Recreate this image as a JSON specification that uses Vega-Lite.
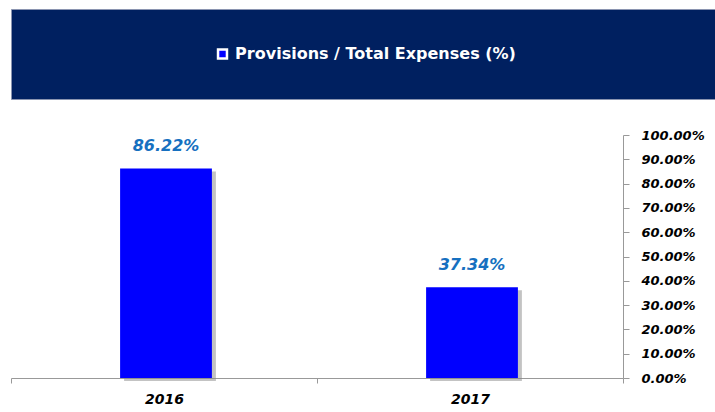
{
  "$schema": "https://vega.github.io/schema/vega-lite/v6.json",
  "background": "white",
  "padding": {"left": 10, "top": 8, "right": 0, "bottom": 0},
  "spacing": 29,
  "config": {"view": {"stroke": null}, "font": "DejaVu Sans"},
  "datasets": {
    "ratio": [
      {"year": "2016", "value": 0.8622},
      {"year": "2017", "value": 0.3734}
    ],
    "series": [{"series": "Provisions / Total Expenses (%)"}]
  },
  "vconcat": [
    {
      "width": 705,
      "height": 90,
      "view": {"fill": "#002060", "stroke": "#8a94b0"},
      "data": {"name": "series"},
      "layer": [
        {
          "mark": {"type": "point", "shape": "square", "filled": true, "fill": "#0000FF", "stroke": "white", "strokeWidth": 2.5, "size": 80, "xOffset": -141, "opacity": 1},
          "encoding": {}
        },
        {
          "mark": {"type": "text", "color": "white", "fontSize": 16, "fontWeight": "bold", "dx": 12, "font": "DejaVu Sans"},
          "encoding": {"text": {"field": "series"}}
        }
      ]
    },
    {
      "width": 612,
      "height": 243,
      "data": {"name": "ratio"},
      "encoding": {
        "x": {
          "field": "year", "type": "nominal",
          "scale": {"paddingInner": 0, "paddingOuter": 0},
          "axis": {"title": null, "labelAngle": 0, "tickBand": "extent", "domainColor": "#999", "tickColor": "#999", "tickSize": 5, "labelFontSize": 14, "labelFontWeight": "bold", "labelFontStyle": "italic", "labelColor": "black", "labelPadding": 9}
        },
        "y": {
          "field": "value", "type": "quantitative",
          "scale": {"domain": [0, 1]},
          "axis": {"orient": "right", "title": null, "values": [0, 0.1, 0.2, 0.3, 0.4, 0.5, 0.6, 0.7, 0.8, 0.9, 1], "format": ".2%", "grid": false, "domainColor": "#999", "tickColor": "#999", "tickSize": 6, "labelPadding": 12, "labelFontSize": 13, "labelFontWeight": "bold", "labelFontStyle": "italic", "labelColor": "black"}
        }
      },
      "layer": [
        {"mark": {"type": "bar", "color": "#888888", "opacity": 0.5, "width": {"band": 0.3}, "xOffset": 6, "yOffset": 3}},
        {"mark": {"type": "bar", "color": "#0000FF", "width": {"band": 0.3}, "xOffset": 2}},
        {
          "mark": {"type": "text", "dy": -22, "dx": 2, "fontSize": 16, "fontWeight": "bold", "fontStyle": "italic", "color": "#1670C0"},
          "encoding": {"text": {"field": "value", "type": "quantitative", "format": ".2%"}}
        }
      ]
    }
  ]
}
